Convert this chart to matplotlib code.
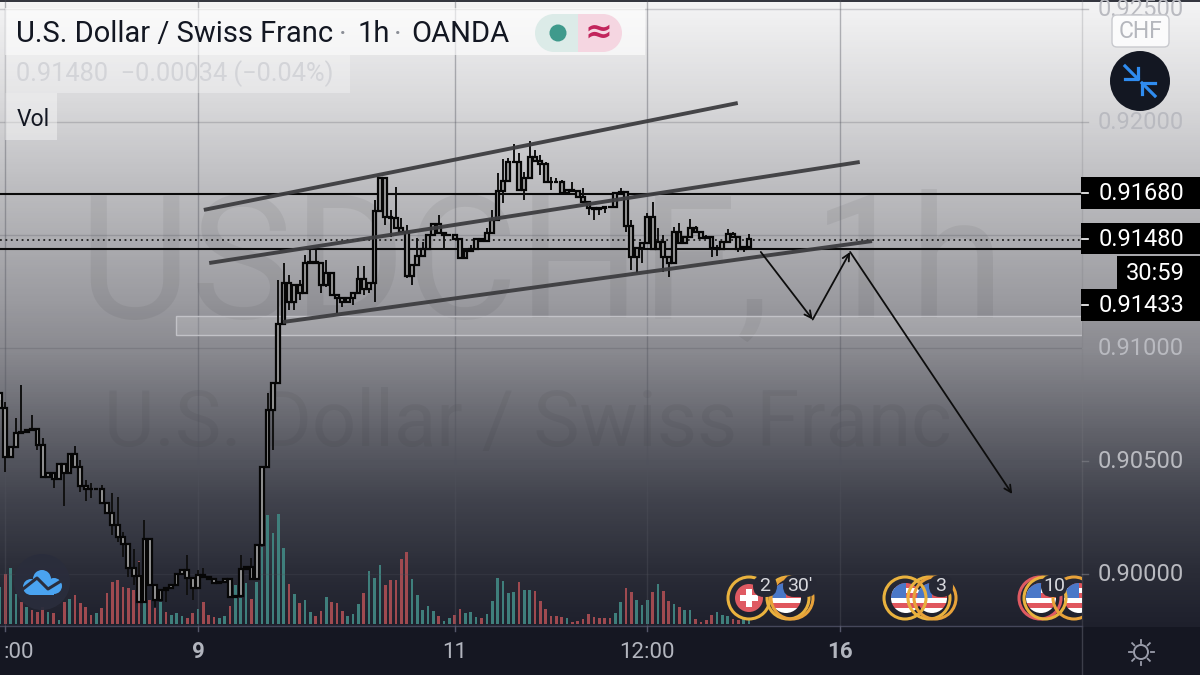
#!/usr/bin/env python3
import numpy as np
import matplotlib
matplotlib.use('Agg')
import matplotlib.pyplot as plt
from matplotlib.colors import LinearSegmentedColormap
from matplotlib.patches import Circle, FancyBboxPatch, Rectangle

plt.rcParams['font.family'] = ['Roboto', 'DejaVu Sans']

# closes per hourly bar, each body opens on the previous close
closes = [
    .90733, .90516, .90560, .90625, .90630, .90637, .90640, .90571, .90431, .90448,
    .90419, .90485, .90445, .90531, .90475, .90389, .90375, .90377, .90375, .90313,
    .90268, .90217, .90165, .90133, .90025, .89991, .89878, .90153, .89951, .89885,
    .89929, .89936, .89951, .90000, .90018, .89981, .89936, .89995, .89988, .89976,
    .89962, .89966, .89976, .89897, .89903, .90021, .90029, .89976, .90128, .90472,
    .90726, .90847, .91106, .91289, .91205, .91279, .91242, .91375, .91379, .91375,
    .91279, .91330, .91234, .91220, .91205, .91220, .91245, .91304, .91260, .91289,
    .91606, .91751, .91581, .91574, .91529, .91515, .91320, .91367, .91407, .91437,
    .91498, .91549, .91507, .91501, .91498, .91481, .91400, .91431, .91437, .91481,
    .91475, .91510, .91566, .91696, .91740, .91822, .91822, .91699, .91751, .91844,
    .91829, .91814, .91733, .91736, .91733, .91687, .91699, .91696, .91670, .91648,
    .91621, .91614, .91618, .91622, .91625, .91687, .91692, .91540, .91404, .91441,
    .91463, .91581, .91437, .91471, .91401, .91375, .91513, .91466, .91490, .91529,
    .91515, .91485, .91490, .91441, .91440, .91471, .91505, .91490, .91437, .91445,
    .91484,
]
first_open = .90800

# wicks that stick out of the body, bar number -> price
wick_highs = {
    0: .90770, 1: .90762, 3: .90689, 4: .90836, 6: .90703, 8: .90600, 14: .90566,
    15: .90504, 16: .90416, 17: .90401, 19: .90394, 20: .90320, 21: .90357, 22: .90342,
    23: .90187, 25: .90109, 26: .90054, 27: .90239, 35: .90084, 37: .90018, 38: .90025,
    45: .90084, 47: .90069, 50: .90799, 52: .91301, 53: .91375, 54: .91323, 56: .91301,
    57: .91411, 58: .91434, 59: .91434, 61: .91389, 67: .91363, 68: .91363, 70: .91655,
    73: .91611, 74: .91714, 75: .91574, 76: .91544, 78: .91485, 79: .91470, 82: .91588,
    88: .91456, 91: .91529, 92: .91611, 93: .91773, 94: .91835, 95: .91840, 96: .91903,
    97: .91864, 98: .91780, 99: .91916, 100: .91876, 101: .91854, 102: .91825, 103: .91758,
    104: .91750, 105: .91745, 107: .91736, 109: .91706, 116: .91706, 118: .91566, 121: .91596,
    122: .91648, 123: .91529, 124: .91500, 126: .91537, 127: .91555, 129: .91569, 130: .91540,
    132: .91500, 134: .91455, 136: .91525, 137: .91515, 140: .91504,
}
wick_lows = {
    1: .90453, 7: .90549, 10: .90379, 12: .90301, 15: .90364, 16: .90324, 17: .90335,
    21: .90172, 22: .90143, 23: .90077, 24: .89988, 25: .89951, 29: .89855, 31: .89877,
    35: .89907, 36: .89885, 51: .90549, 54: .91168, 55: .91168, 56: .91212, 60: .91245,
    61: .91271, 63: .91153, 64: .91183, 66: .91190, 67: .91242, 68: .91234, 69: .91242,
    70: .91205, 72: .91544, 73: .91493, 76: .91308, 77: .91279, 83: .91434, 94: .91643,
    98: .91655, 101: .91765, 103: .91699, 110: .91588, 111: .91566, 112: .91588, 113: .91596,
    117: .91515, 118: .91345, 119: .91330, 120: .91375, 124: .91338, 125: .91316, 133: .91404,
    134: .91407, 138: .91426, 139: .91426,
}

volumes = [
    37, 50, 56, 30, 22, 17, 14, 12, 17, 12, 11, 4, 22, 25, 29, 21, 17, 9, 11, 16,
    31, 42, 44, 37, 36, 34, 63, 35, 24, 16, 22, 12, 9, 11, 8, 6, 11, 15, 22, 9,
    7, 6, 8, 18, 39, 26, 41, 25, 42, 77, 109, 91, 110, 76, 40, 30, 21, 24, 12, 8,
    13, 27, 22, 21, 13, 8, 10, 20, 31, 53, 46, 59, 39, 44, 44, 65, 72, 45, 29, 14,
    18, 13, 8, 3, 6, 9, 15, 11, 12, 7, 6, 10, 23, 46, 43, 31, 32, 42, 34, 34,
    33, 23, 15, 8, 8, 7, 6, 2, 3, 5, 10, 7, 6, 6, 6, 11, 22, 36, 32, 24,
    19, 24, 32, 40, 33, 23, 20, 17, 14, 14, 5, 2, 4, 9, 12, 9, 8, 5, 4, 5, 4,
]
# g = up bar, r = down bar
volume_dirs = (
    'grggrgrrrgrgrgrrrrgr' 'rrrrrrrgrrgrgggrrgrr' 'rggrgggrggggggrgrggr'
    'rgrrrgggrgggrrrrrggg' 'ggrggrrgggrggggggrgg' 'rrrrrrgrrrrrrrrggrrg'
    'ggrgrrgrggrrrrgggrrgg'
)

# price scale, bottom axis and drawn levels
price_ticks = [.92500, .92000, .91000, .90500, .90000]
price_grid = [.92500, .92000, .91500, .91000, .90500, .90000]
time_ticks = [1, 37, 85, 121, 157]
time_labels = [':00', '9', '11', '12:00', '16']
time_bold = [False, True, False, False, True]

black_levels = [.91680, .91438]
dotted_level = .91480
zone_start = 32.9
zone_prices = [.91058, .91142]

trend_upper = ([38.1, 137.9], [.91611, .92084])
trend_middle = ([39.1, 160.7], [.91376, .91823])
trend_lower = ([52.9, 163.0], [.91115, .91473])
path_bars = [142.2, 151.9, 158.9, 189.2]
path_prices = [.91425, .91126, .91425, .90354]

# stacked labels on the right: text, top, bottom
price_boxes = [('0.91680', 177, 209), ('0.91480', 223, 254), ('0.91433', 289, 321)]

W, H = 1200, 675
fig = plt.figure(figsize=(12, 6.75), dpi=100)

# back layer, pixel coordinates
ax_bg = fig.add_axes([0, 0, 1, 1], zorder=0)
ax_bg.axis('off')
stops = [(0, '#f4f4f5'), (100, '#d9d9db'), (180, '#bfbfc2'), (300, '#9b9ba0'), (350, '#8a8a90'),
         (430, '#62636b'), (500, '#41434d'), (570, '#2b2d38'), (627, '#1e202c')]
cmap = LinearSegmentedColormap.from_list('bg', [(p / 627, c) for p, c in stops])
ax_bg.imshow(np.linspace(0, 1, 627).reshape(-1, 1), cmap=cmap, aspect='auto', extent=(0, W, 627, 0), zorder=0)
ax_bg.set_xlim(0, W)
ax_bg.set_ylim(H, 0)
ax_bg.add_patch(Rectangle((0, 627), W, 48, fc='#151722', ec='none', zorder=1))
ax_bg.add_patch(Rectangle((0, 0), W, 2, fc='#34363f', ec='none', zorder=1))
ax_bg.text(542, 318, 'USDCHF, 1h', fontsize=124, color='black', alpha=0.055, ha='center', va='baseline', zorder=2)
ax_bg.text(528, 446, 'U.S. Dollar / Swiss Franc', fontsize=56, color='black', alpha=0.045, ha='center', va='baseline', zorder=2)

# chart area
pos = [0, 48 / H, 1082 / W, 627 / H]
xlim = (0, 1082 / 5.35)
ax_vol = fig.add_axes(pos, zorder=1)
ax_vol.set_xlim(*xlim)
ax_vol.set_ylim(-3, 624)
ax_vol.axis('off')
bars = np.arange(len(closes))
vol_colors = ['#3f7f7c' if c == 'g' else '#9f4a50' for c in volume_dirs]
ax_vol.bar(bars, volumes, width=0.5, color=vol_colors)

ax = fig.add_axes(pos, zorder=2)
ax.patch.set_alpha(0)
ax.set_xlim(*xlim)
ax.set_ylim(.897654, .925398)
ax.set_xticks([])
ax.set_yticks([])
for s in ax.spines.values():
    s.set_visible(False)

for t in time_ticks:
    ax.axvline(t, color='#50525c', alpha=0.4, lw=1, zorder=1)
for p in price_grid:
    ax.axhline(p, color='#50525c', alpha=0.25, lw=1, zorder=1)

ax.add_patch(Rectangle((zone_start, zone_prices[0]), xlim[1] - zone_start, zone_prices[1] - zone_prices[0],
                       fc=(1, 1, 1, 0.17), ec=(0.78, 0.78, 0.8, 0.9), lw=1, zorder=2))
for lvl in black_levels:
    ax.axhline(lvl, color='#0a0a0a', lw=1.5, zorder=3)
ax.axhline(dotted_level, color='#222222', lw=1.3, ls=(0, (1, 2)), zorder=3)

# candles
opens = np.array([first_open] + closes[:-1])
closes_arr = np.array(closes)
tops = np.maximum(opens, closes_arr)
bottoms = np.minimum(opens, closes_arr)
highs = np.array([wick_highs.get(i, tops[i]) for i in bars])
lows = np.array([wick_lows.get(i, bottoms[i]) for i in bars])
ax.vlines(bars, lows, highs, color='#111111', lw=1.4, zorder=4)
ax.bar(bars, tops - bottoms, bottom=bottoms, width=0.72, facecolor=(1, 1, 1, 0.6),
       edgecolor='#060606', linewidth=1.6, zorder=5)

# drawn trend channel and path
for xs, ys in (trend_upper, trend_middle, trend_lower):
    ax.plot(xs, ys, color='#3d3d40', lw=2.8, alpha=0.95, solid_capstyle='butt', zorder=6)
for i in range(len(path_bars) - 1):
    ax.annotate('', xy=(path_bars[i + 1], path_prices[i + 1]), xytext=(path_bars[i], path_prices[i]),
                arrowprops=dict(arrowstyle='->,head_length=0.5,head_width=0.25', color='#0d0d0d', lw=1.3,
                                shrinkA=0, shrinkB=0), zorder=7)

# right axis strip and the interface on top, pixel coordinates again
ui = fig.add_axes([0, 0, 1, 1], zorder=3)
ui.patch.set_alpha(0)
ui.set_xlim(0, W)
ui.set_ylim(H, 0)
ui.axis('off')

ui.plot([1082, 1082], [0, 627], color='#7a7b80', alpha=0.25, lw=1)
ui.plot([0, 1082], [625.5, 625.5], color='#45475a', lw=1)
ui.plot([1082, 1082], [627, H], color='#3c3e4a', lw=1)
price_scale = lambda p: 122 + (.92 - p) * 22600
for p in price_ticks:
    ui.text(1140.5, price_scale(p) + 0.5, f'{p:.5f}', color='#b9bac0', fontsize=17, ha='center', va='center')
    ui.plot([1082, 1088], [price_scale(p)] * 2, color='#8b8c92', alpha=0.5, lw=1)

for label, top, bottom in price_boxes:
    ui.add_patch(Rectangle((1081, top), W - 1081, bottom - top, fc='black', ec='none', zorder=3))
    ui.text(1141, (top + bottom) / 2 + 0.5, label, color='white', fontsize=17, ha='center', va='center', zorder=4)
    ui.plot([1082, 1088], [(top + bottom) / 2] * 2, color='white', lw=1.2, zorder=4)
ui.add_patch(Rectangle((1117, 256), W - 1117, 33, fc='black', ec='none', zorder=3))
ui.text(1155, 273, '30:59', color='white', fontsize=17, ha='center', va='center', zorder=4)

for t, label, bold in zip(time_ticks, time_labels, time_bold):
    px = t * 5.35
    if label == ':00':
        # only the tail of this label is on screen
        ui.text(34, 652, label, color='#b2b5be', fontsize=16, ha='right', va='center')
    else:
        ui.text(px, 652, label, color='#b2b5be', fontsize=16, ha='center', va='center',
                fontweight='bold' if bold else 'normal')
    ui.plot([px, px], [626, 631], color='#55576a', lw=1)

# title legend boxes
ui.add_patch(Rectangle((5, 8), 640, 47, fc=(1, 1, 1, 0.62), ec='none'))
ui.add_patch(Rectangle((5, 55), 345, 38, fc=(1, 1, 1, 0.3), ec='none'))
ui.add_patch(Rectangle((5, 93), 52, 47, fc=(1, 1, 1, 0.4), ec='none'))
ink = '#131722'
ui.text(16, 34.5, 'U.S. Dollar / Swiss Franc', color=ink, fontsize=21, va='center')
ui.text(343, 34.5, '·', color='#8a8d96', fontsize=21, va='center', ha='center')
ui.text(358, 34.5, '1h', color=ink, fontsize=21, va='center')
ui.text(398, 34.5, '·', color='#8a8d96', fontsize=21, va='center', ha='center')
ui.text(411, 34.5, 'OANDA', color=ink, fontsize=21, va='center')
ui.text(16, 74, '0.91480  −0.00034 (−0.04%)', color='#d3d4d8', fontsize=18.3, va='center')
ui.text(17, 119, 'Vol', color=ink, fontsize=16.5, va='center')

# market status pill
ui.add_patch(Rectangle((554, 14), 49, 38, fc='#dcebe8', ec='none'))
ui.add_patch(Circle((554, 33), 19, fc='#dcebe8', ec='none'))
ui.add_patch(Rectangle((578, 14), 25, 38, fc='#f5d6e1', ec='none'))
ui.add_patch(Circle((603, 33), 19, fc='#f5d6e1', ec='none'))
ui.add_patch(Circle((558, 33), 8.5, fc='#3f9a8c', ec='none'))
ui.text(598, 32, '≈', color='#c2255c', fontsize=24, ha='center', va='center', fontweight='bold', family=['DejaVu Sans'])

# currency button and collapse button
ui.add_patch(FancyBboxPatch((1112, 15), 57, 32, boxstyle='round,pad=0,rounding_size=5', fc=(1, 1, 1, 0.82),
                            ec='#c8c9ce', lw=1, zorder=5))
ui.text(1140.5, 31.5, 'CHF', color='#b5b7bd', fontsize=16.5, ha='center', va='center', zorder=6)
ui.add_patch(Circle((1140, 81), 30, fc='#131722', ec='none', zorder=5))
arrow_paths = [
    ([1125, 1138], [66, 79]), ([1125, 1138, 1138], [79, 79, 68]),
    ([1155, 1142], [96, 83]), ([1155, 1142, 1142], [83, 83, 94]),
]
for xs, ys in arrow_paths:
    ui.plot(xs, ys, color='#2f8cf0', lw=2.3, zorder=6)

# logo bubble
ui.add_patch(Circle((42, 582), 28, fc='#2a2d3c', ec='none', alpha=0.95))
for cx, cy, r in [(31, 587, 8), (42, 579, 9), (54, 586, 8)]:
    ui.add_patch(Circle((cx, cy), r, fc='#4aa3f0', ec='none'))
ui.add_patch(Rectangle((31, 585), 23, 10, fc='#4aa3f0', ec='none'))
ui.plot([23, 37, 48, 61], [589, 578, 589, 581], color='#2a2d3c', lw=2.2)

# sun icon
ui.add_patch(Circle((1141, 652), 7, fc='none', ec='#9a9dab', lw=1.4))
for a in np.arange(0, 360, 45):
    ca, sa = np.cos(np.radians(a)), np.sin(np.radians(a))
    ui.plot([1141 + 9.5 * ca, 1141 + 12.5 * ca], [652 + 9.5 * sa, 652 + 12.5 * sa], color='#9a9dab', lw=1.3)

# event markers stop at the price axis
clip_box = Rectangle((0, 0), 1082, 627, transform=ui.transData)


def ring(cx, color='#e9b23e'):
    c = ui.add_patch(Circle((cx, 598), 21, fc='none', ec=color, lw=2.2, zorder=7))
    c.set_clip_path(clip_box)


def swiss(cx):
    ui.add_patch(Circle((cx, 598), 14, fc='#df5a62', ec='none', zorder=6))
    ui.add_patch(Rectangle((cx - 9, 595), 18, 6, fc='white', ec='none', zorder=7))
    ui.add_patch(Rectangle((cx - 3, 589), 6, 18, fc='white', ec='none', zorder=7))


def usa(cx):
    clip = Circle((cx, 598), 15, transform=ui.transData)
    w = min(30, 1082 - (cx - 15))
    for k in range(6):
        r = ui.add_patch(Rectangle((cx - 15, 583 + k * 5), w, 5, fc='#e0565d' if k % 2 == 0 else 'white',
                                   ec='none', zorder=6))
        r.set_clip_path(clip)
    r = ui.add_patch(Rectangle((cx - 15, 583), min(15, w), 15, fc='#4a78c8', ec='none', zorder=6))
    r.set_clip_path(clip)


def badge(cx, w, label):
    ui.add_patch(FancyBboxPatch((cx - w / 2, 575), w, 22, boxstyle='round,pad=0,rounding_size=11',
                                fc='#262834', ec='none', zorder=8))
    ui.text(cx, 586, label, color='#d8d9de', fontsize=14, ha='center', va='center', zorder=9)


swiss(749)
usa(786)
ring(749)
ring(788)
ring(792, '#e8a23a')
badge(765, 24, '2')
badge(800, 34, "30'")

usa(906)
usa(932)
ring(905)
ring(929)
ring(935, '#e8a23a')
badge(941, 24, '3')

usa(1041)
usa(1079)
ring(1040, '#df5a62')
ring(1045)
ring(1074, '#e8a23a')
badge(1054, 26, '10')

fig.savefig('out.png', dpi=100)
plt.close()
